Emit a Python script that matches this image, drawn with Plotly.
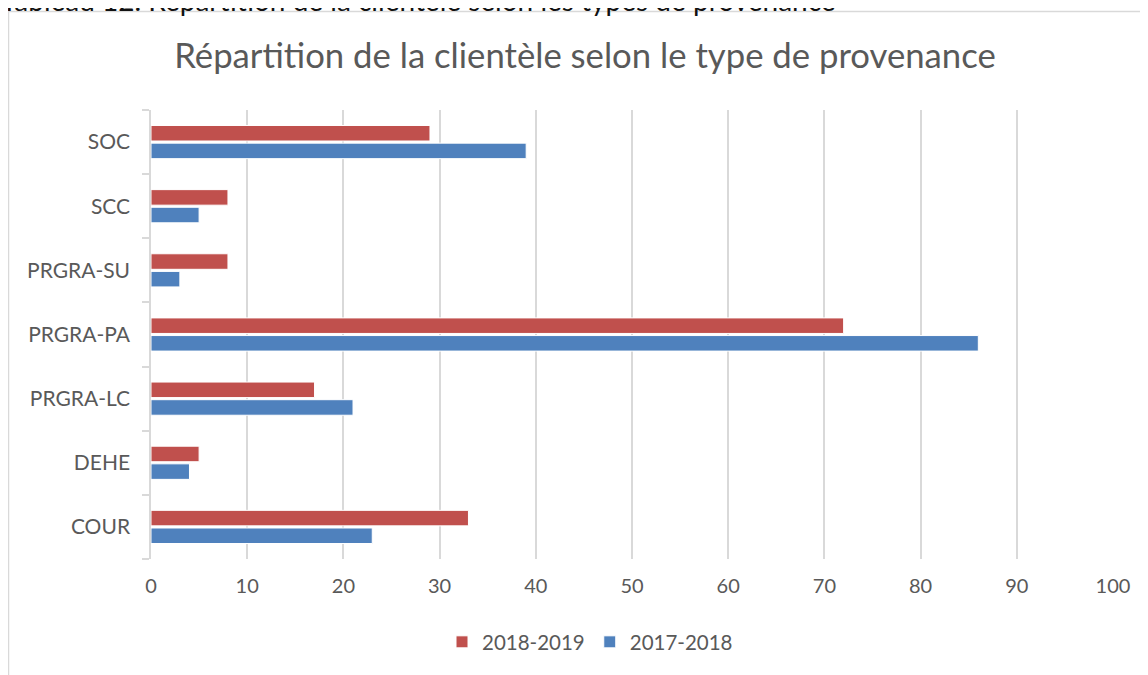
import plotly.graph_objects as go

categories = ["COUR", "DEHE", "PRGRA-LC", "PRGRA-PA", "PRGRA-SU", "SCC", "SOC"]
values_2017_2018 = [23, 4, 21, 86, 3, 5, 39]
values_2018_2019 = [33, 5, 17, 72, 8, 8, 29]
x_ticks = [0, 10, 20, 30, 40, 50, 60, 70, 80, 90, 100]

FONT = "Lato"
TXT = "#595959"
GRID = "#D9D9D9"

fig = go.Figure()
fig.add_trace(go.Bar(
    y=categories, x=values_2017_2018, name="2017-2018", orientation="h",
    marker=dict(color="#4F81BD", line=dict(color="white", width=1)),
))
fig.add_trace(go.Bar(
    y=categories, x=values_2018_2019, name="2018-2019", orientation="h",
    marker=dict(color="#C0504D", line=dict(color="white", width=1)),
))

# page has an 8px body margin; plot area on screen: x 151..1113, y 110..559
OFF = 8
def px_x(p):
    return (p - 151) / 962.0

def px_y(p):
    return (559 - p) / 449.0

W, H = 1148 - OFF, 675 - OFF

fig.update_layout(
    width=W, height=H,
    margin=dict(l=151 - OFF, r=W - (1113 - OFF), t=110 - OFF, b=H - (559 - OFF)),
    paper_bgcolor="white", plot_bgcolor="white",
    barmode="group", bargap=0.45, bargroupgap=0.12,
    font=dict(family=FONT, color=TXT, size=20),
    title=dict(
        text="Répartition de la clientèle selon le type de provenance",
        x=px_x(585), xref="paper", xanchor="center",
        y=1 - (56 - OFF) / H, yref="container", yanchor="middle",
        font=dict(family=FONT, size=34.7, color=TXT),
    ),
    showlegend=True,
    legend=dict(
        orientation="h", traceorder="reversed",
        x=px_x(590), xanchor="center", y=px_y(642), yanchor="middle",
        font=dict(family=FONT, size=20.5, color=TXT),
        itemwidth=30,
    ),
    xaxis=dict(
        range=[0, 100], tickvals=x_ticks, ticktext=[str(v) for v in x_ticks],
        showgrid=True, gridcolor=GRID, gridwidth=1.5,
        zeroline=False, showline=False, ticks="",
        ticklabelstandoff=13,
        tickfont=dict(family=FONT, size=20, color=TXT),
    ),
    yaxis=dict(
        type="category", categoryorder="array", categoryarray=categories,
        showgrid=False, zeroline=False,
        showline=True, linecolor=GRID, linewidth=1.5,
        ticks="outside", tickson="boundaries", ticklen=7, tickcolor=GRID, tickwidth=1.5,
        ticklabelstandoff=15,
        tickfont=dict(family=FONT, size=21, color=TXT),
    ),
)

# chart frame
fig.add_shape(
    type="rect", xref="paper", yref="paper",
    x0=px_x(8.5), x1=px_x(1170), y0=px_y(700), y1=px_y(11.5),
    line=dict(color=GRID, width=1.5), fillcolor="rgba(0,0,0,0)", layer="below",
)

# caption above the chart (partly cut off at top, as in the source)
fig.add_annotation(
    text="Tableau 12. Répartition de la clientèle selon les types de provenance",
    xref="paper", yref="paper", x=px_x(-1), y=px_y(19.5), xanchor="left", yanchor="bottom",
    showarrow=False, font=dict(family=FONT, size=28, color="#111111"),
)

fig.write_html("out.html")
